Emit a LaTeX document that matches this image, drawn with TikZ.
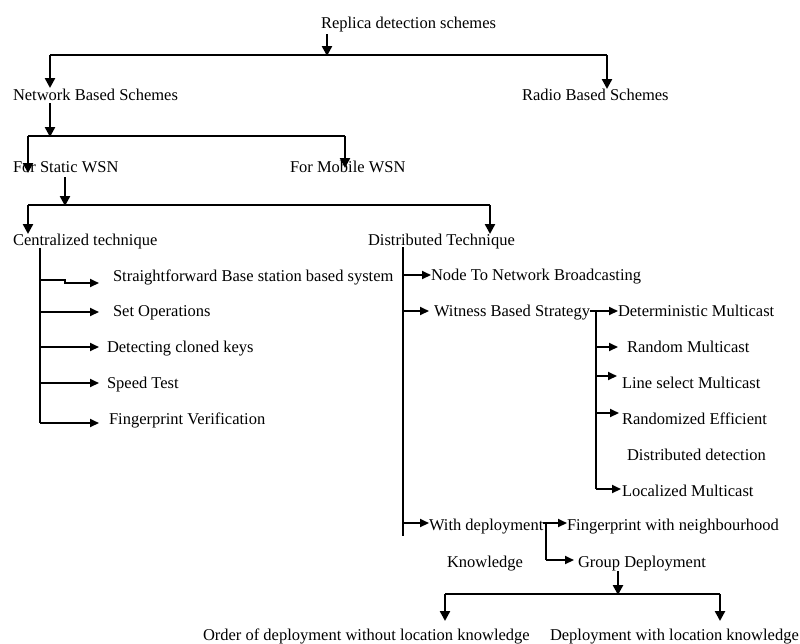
\documentclass[tikz,border=0pt]{standalone}
\usepackage{fontspec}
\setmainfont{Liberation Serif}
\usetikzlibrary{arrows.meta}
\begin{document}
\begin{tikzpicture}[x=1pt,y=-1pt,
  lbl/.style={anchor=west,inner sep=0pt,outer sep=0pt,text height=11pt,text depth=3.5pt,yshift=-2.5pt,font=\fontsize{16.5}{19}\selectfont},
  bus/.style={line width=1.4pt},
  vline/.style={line width=1.7pt},
  arr/.style={line width=2.4pt,-{Triangle[length=10pt,width=10pt]}},
  br/.style={line width=2pt,-{Triangle[length=9pt,width=8pt]}}]
\useasboundingbox (0,0) rectangle (800,643);
% text nodes
\node[lbl] (root) at (321,22) {Replica detection schemes};
\node[lbl] (net) at (13,94) {Network Based Schemes};
\node[lbl] (radio) at (522,94) {Radio Based Schemes};
\node[lbl] (static) at (13,166) {For Static WSN};
\node[lbl] (mobile) at (290,166) {For Mobile WSN};
\node[lbl] (cent) at (13,239) {Centralized technique};
\node[lbl] (dist) at (368,239) {Distributed Technique};
\node[lbl] (c1) at (113,275) {Straightforward Base station based system};
\node[lbl] (c2) at (113,310) {Set Operations};
\node[lbl] (c3) at (107,346) {Detecting cloned keys};
\node[lbl] (c4) at (107,382) {Speed Test};
\node[lbl] (c5) at (109,418) {Fingerprint Verification};
\node[lbl] (d1) at (431,274) {Node To Network Broadcasting};
\node[lbl] (d2) at (434,310) {Witness Based Strategy};
\node[lbl] (d3) at (429,524) {With deployment};
\node[lbl] (know) at (447,561) {Knowledge};
\node[lbl] (w1) at (618,310) {Deterministic Multicast};
\node[lbl] (w2) at (627,346) {Random Multicast};
\node[lbl] (w3) at (622,382) {Line select Multicast};
\node[lbl] (w4) at (622,418) {Randomized Efficient};
\node[lbl] (w4b) at (627,454) {Distributed detection};
\node[lbl] (w5) at (622,490) {Localized Multicast};
\node[lbl] (f1) at (567,524) {Fingerprint with neighbourhood};
\node[lbl] (g) at (578,561) {Group Deployment};
\node[lbl] (o1) at (203,634) {Order of deployment without location knowledge};
\node[lbl] (o2) at (550,634) {Deployment with location knowledge};
% level 1
\coordinate (r0) at (327,34);
\coordinate (j0) at (327,56);
\coordinate (jL) at (50,55);
\coordinate (jR) at (607,55);
\draw[arr] (r0) -- (j0);
\draw[bus] (jL) -- (jR);
\draw[arr] (jL) -- (50,88);
\draw[arr] (jR) -- (607,89);
% level 2
\coordinate (n0) at (50,103);
\coordinate (j2) at (50,137);
\coordinate (j2L) at (28,136);
\coordinate (j2R) at (345,136);
\coordinate (sT) at (28,173);
\coordinate (mT) at (345,168);
\draw[arr] (n0) -- (j2);
\draw[bus] (j2L) -- (j2R);
\draw[arr] (j2L) -- (sT);
\draw[arr] (j2R) -- (mT);
% level 3
\coordinate (s0) at (65,177);
\coordinate (j3) at (65,206);
\coordinate (j3L) at (28,205);
\coordinate (j3R) at (490,205);
\draw[arr] (s0) -- (j3);
\draw[bus] (j3L) -- (j3R);
\draw[arr] (j3L) -- (28,234);
\draw[arr] (j3R) -- (490,234);
% centralized
\coordinate (ca) at (40,248);
\coordinate (cb) at (40,423);
\coordinate (ct) at (99,0);
\coordinate (k1a) at (40,280);
\coordinate (k1b) at (65,280);
\coordinate (k1c) at (65,283);
\coordinate (k1t) at (99,283);
\coordinate (k2) at (40,312);
\coordinate (k3) at (40,347);
\coordinate (k4) at (40,383);
\draw[vline] (ca) -- (cb);
\draw[br] (k1a) -- (k1b) -- (k1c) -- (k1t);
\draw[br] (k2) -- (k2 -| ct);
\draw[br] (k3) -- (k3 -| ct);
\draw[br] (k4) -- (k4 -| ct);
\draw[br] (cb) -- (cb -| ct);
% distributed
\coordinate (da) at (403,247);
\coordinate (db) at (403,536);
\coordinate (e1) at (403,275);
\coordinate (e2) at (403,311);
\coordinate (e3) at (403,523);
\coordinate (e1t) at (431,275);
\coordinate (e2t) at (429,311);
\coordinate (e3t) at (429,523);
\draw[vline] (da) -- (db);
\draw[br] (e1) -- (e1t);
\draw[br] (e2) -- (e2t);
\draw[br] (e3) -- (e3t);
% witness
\coordinate (wa) at (596,311);
\coordinate (wb) at (596,489);
\coordinate (v2) at (596,347);
\coordinate (v3) at (596,376);
\coordinate (v4) at (596,413);
\draw[br] (d2.east |- wa) -- (w1.west |- wa);
\draw[vline] (wa) -- (wb);
\draw[br] (v2) -- (618,347);
\draw[br] (v3) -- (617,376);
\draw[br] (v4) -- (619,413);
\draw[br] (wb) -- (621,489);
% deployment
\coordinate (pa) at (546,523);
\coordinate (pb) at (546,560);
\coordinate (pt) at (574,560);
\draw[br] (d3.east |- pa) -- (f1.west |- pa);
\draw[vline] (pa) -- (pb);
\draw[br] (pb) -- (pt);
% group
\coordinate (g0) at (618,571);
\coordinate (gj) at (618,595);
\coordinate (gL) at (445,594);
\coordinate (gR) at (720,594);
\coordinate (gLt) at (445,621);
\coordinate (gRt) at (720,621);
\draw[arr] (g0) -- (gj);
\draw[bus] (gL) -- (gR);
\draw[arr] (gL) -- (gLt);
\draw[arr] (gR) -- (gRt);
\end{tikzpicture}
\end{document}
